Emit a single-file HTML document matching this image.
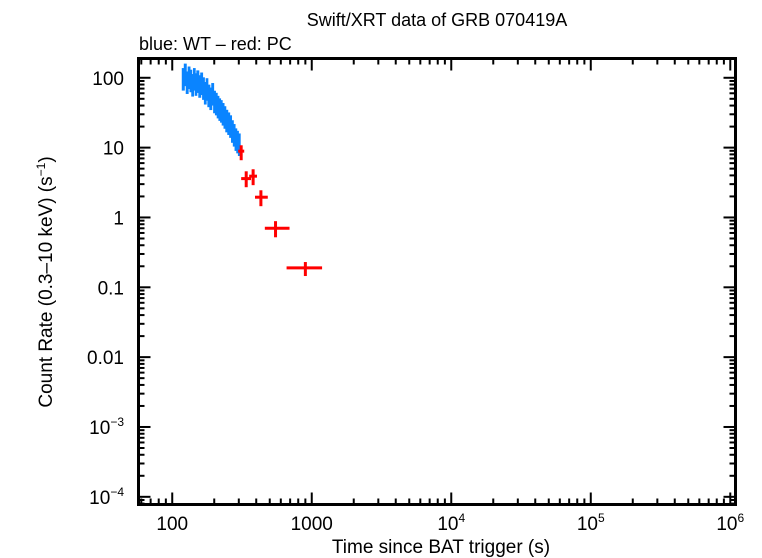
<!DOCTYPE html>
<html><head><meta charset="utf-8"><style>
html,body{margin:0;padding:0;background:#fff;}
svg{display:block;font-family:"Liberation Sans",sans-serif;}
</style></head><body>
<svg id="chart" width="762" height="558" viewBox="0 0 762 558" xmlns="http://www.w3.org/2000/svg">
<text x="437" y="26" font-size="18" text-anchor="middle">Swift/XRT data of GRB 070419A</text>
<text x="139" y="50" font-size="18">blue: WT – red: PC</text>
<text x="441" y="553" font-size="19" text-anchor="middle">Time since BAT trigger (s)</text>
<text transform="translate(52,282) rotate(-90)" font-size="19" text-anchor="middle">Count Rate (0.3–10 keV) (s<tspan font-size="12" dy="-7">−1</tspan><tspan dy="7">)</tspan></text>
<g id="ticks"></g><g id="marks"></g>
<rect x="138.5" y="58.5" width="597" height="446" fill="none" stroke="#000" stroke-width="3"/>
</svg>
<script>
const wtTime=[118,122,126,130,134,138,142,146,150,155,160,165,170,175,180,186,192,198,204,210,216,222,228,235,242,250,258,266,274,282,290,298];
const wtRate=[95,110,85,100,90,78,95,80,88,75,82,70,60,68,55,50,58,45,42,38,35,33,30,27,24,22,20,17,15,13,12,11];
const pcTime=[312,339,380,432,550,900];
const pcTimeLo=[297,312,356,392,461,660];
const pcTimeHi=[328,367,405,484,693,1186];
const pcRate=[8.9,3.6,3.9,1.95,0.70,0.19];
const pcRateLo=[6.6,2.71,2.9,1.45,0.52,0.145];
const pcRateHi=[10.8,4.58,4.9,2.45,0.885,0.23];
const xTickLabels=["100","1000","10^4","10^5","10^6"];
const yTickLabels=["100","10","1","0.1","0.01","10^-3","10^-4"];

const L=138.5,R=735.5,T=58.5,B=504.5;
const xMin=Math.log10(57.3),xMax=Math.log10(1.09e6);
const yMin=-4.11,yMax=2.276;
const X=t=>L+(Math.log10(t)-xMin)/(xMax-xMin)*(R-L);
const Y=v=>B-(Math.log10(v)-yMin)/(yMax-yMin)*(B-T);
const NS="http://www.w3.org/2000/svg";
function mk(tag,attrs,parent){const e=document.createElementNS(NS,tag);for(const k in attrs)e.setAttribute(k,attrs[k]);parent.appendChild(e);return e;}
const tk=document.getElementById('ticks'),mg=document.getElementById('marks');
function lbl(s,x,y,anchor,g){
  const t=mk('text',{x:x,y:y,'font-size':19,'text-anchor':anchor},g);
  if(s.indexOf('^')>=0){const p=s.split('^');t.appendChild(document.createTextNode(p[0]));
    const sp=mk('tspan',{'font-size':12,dy:-8},t);sp.textContent=p[1].replace('-','−');}
  else t.textContent=s;
  return t;
}
for(let d=1;d<=6;d++){for(let m=1;m<10;m++){const t=m*Math.pow(10,d);const x=X(t);if(x<L||x>R)continue;const len=m===1?12:6;
  const a=mk('line',{x1:x,y1:B,x2:x,y2:B-len,stroke:'#000','stroke-width':2},tk);
  const b=mk('line',{x1:x,y1:T,x2:x,y2:T+len,stroke:'#000','stroke-width':2},tk);}}
xTickLabels.forEach((s,i)=>{const x=X(Math.pow(10,i+2));const e=lbl(s,x,530,'middle',tk);
  });
for(let d=-5;d<=2;d++){for(let m=1;m<10;m++){const v=m*Math.pow(10,d);const y=Y(v);if(y<T||y>B)continue;const len=m===1?12:6;
  const a=mk('line',{x1:L,y1:y,x2:L+len,y2:y,stroke:'#000','stroke-width':2},tk);
  const b=mk('line',{x1:R,y1:y,x2:R-len,y2:y,stroke:'#000','stroke-width':2},tk);}}
yTickLabels.forEach((s,i)=>{const y=Y(Math.pow(10,2-i));const e=lbl(s,124,y+7,'end',tk);
  });
wtTime.forEach((t,i)=>{const next=i<wtTime.length-1?wtTime[i+1]:t*1.03;const x1=X(t),x2=X(next);
  const r=wtRate[i];
  const v=mk('rect',{x:x1-0.5,y:Y(r*1.45),width:Math.max(2.5,x2-x1+1),height:Y(r/1.45)-Y(r*1.45),fill:'#0a84ff'},mg);
  });
pcTime.forEach((t,i)=>{
  const h=mk('line',{x1:X(pcTimeLo[i]),x2:X(pcTimeHi[i]),y1:Y(pcRate[i]),y2:Y(pcRate[i]),stroke:'#ff0000','stroke-width':3},mg);
  
  const v=mk('line',{x1:X(t),x2:X(t),y1:Y(pcRateLo[i]),y2:Y(pcRateHi[i]),stroke:'#ff0000','stroke-width':3},mg);
  });
</script>
</body></html>
